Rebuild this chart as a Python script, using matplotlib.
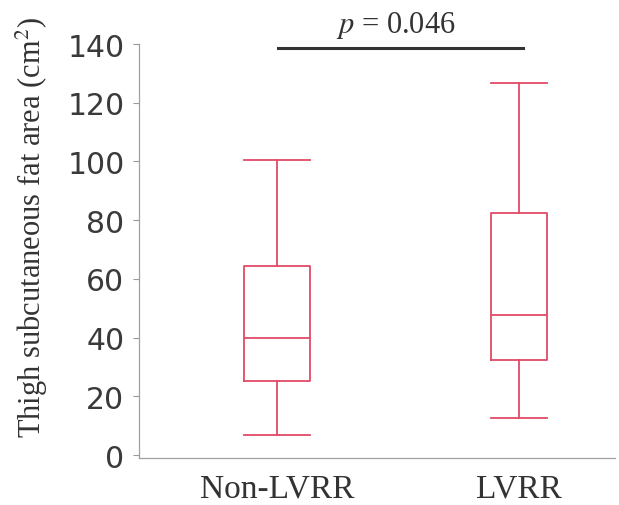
import matplotlib.pyplot as plt

# values
groups = ['Non-LVRR', 'LVRR']
whis_lo = [6.8, 12.6]
q1 = [25.2, 32.4]
median = [39.8, 47.7]
q3 = [64.4, 82.4]
whis_hi = [100.5, 126.7]
p_text = '$p$ = 0.046'

box_color = '#e04a66'
text_color = '#333333'
serif = ['Liberation Serif', 'DejaVu Serif']
plt.rcParams['mathtext.fontset'] = 'stix'

stats = []
for i, g in enumerate(groups):
    stats.append({'label': g, 'whislo': whis_lo[i], 'q1': q1[i], 'med': median[i],
                  'q3': q3[i], 'whishi': whis_hi[i], 'fliers': []})

fig = plt.figure(figsize=(6.19, 5.06), dpi=100)
ax = fig.add_axes([0.2246, 0.093, 0.769, 0.818])

style = dict(color=box_color, linewidth=1.3)
ax.bxp(stats, positions=[1, 2], widths=[0.27, 0.23], showfliers=False,
       boxprops=style, whiskerprops=style, capprops=style, medianprops=style,
       capwidths=[0.27, 0.23])

ax.set_xlim(0.43, 2.397)
ax.set_ylim(-1, 140)
ax.set_yticks(range(0, 141, 20))
ax.tick_params(axis='y', labelsize=21.5, labelcolor='#3a3a3a', color='#999999',
               length=4, width=0.8, pad=6.5)
ax.tick_params(axis='x', length=0, labelsize=24, labelcolor=text_color, pad=11)
for lab in ax.get_xticklabels():
    lab.set_family(serif)

for s in ['top', 'right']:
    ax.spines[s].set_visible(False)
for s in ['left', 'bottom']:
    ax.spines[s].set_color('#a0a0a0')
    ax.spines[s].set_linewidth(0.9)

fig.text(32 / 619, 1 - 227 / 506, 'Thigh subcutaneous fat area (cm$^2$)',
         rotation=90, ha='center', va='center', fontsize=22, family=serif,
         color=text_color)

# significance bar
ax.plot([1.004, 2.017], [138.6, 138.6], color='#333333', linewidth=2.2, clip_on=False)
ax.text(1.492, 144, p_text, ha='center', va='baseline', fontsize=22,
        family=serif, color=text_color)

fig.savefig('out.png', dpi=100)
